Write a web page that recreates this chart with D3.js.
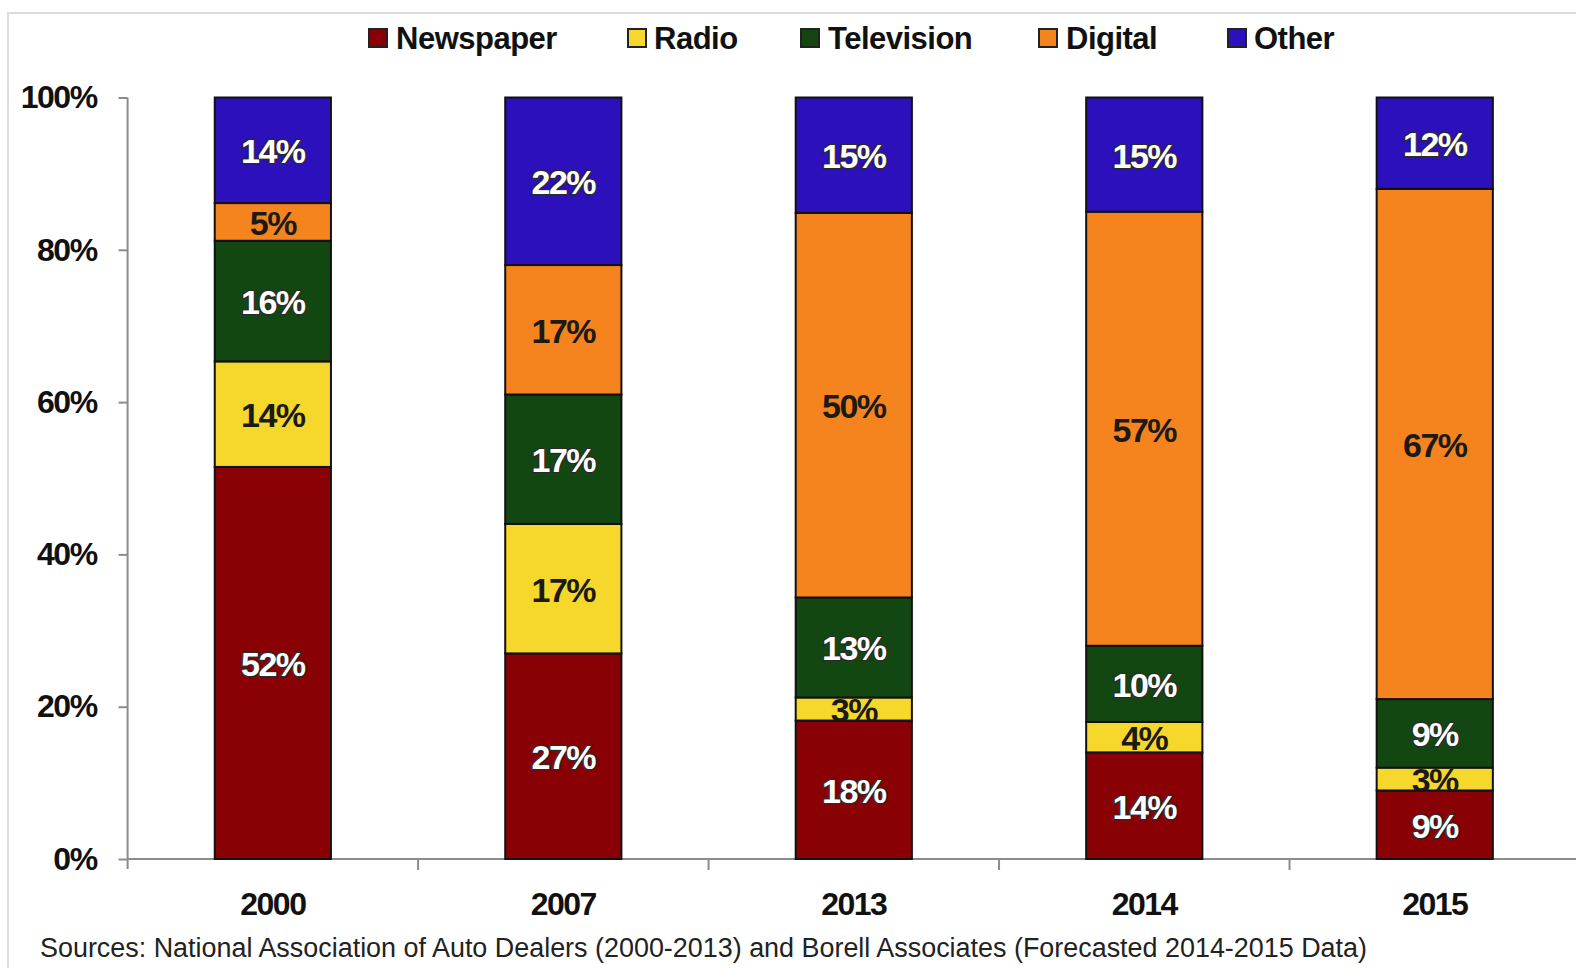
<!DOCTYPE html>
<html>
<head>
<meta charset="utf-8">
<script src="https://cdn.jsdelivr.net/npm/d3@7"></script>
<style>
  html, body { margin: 0; padding: 0; background: #fff; }
  svg { display: block; font-family: "Liberation Sans", Arial, sans-serif; }
</style>
</head>
<body>
<svg id="chart" width="1576" height="968"></svg>
<script>
// Share of auto dealer ad spending by medium
const years = ["2000", "2007", "2013", "2014", "2015"];
const media = ["Newspaper", "Radio", "Television", "Digital", "Other"];
const newspaper  = [52, 27, 18, 14, 9];
const radio      = [14, 17, 3, 4, 3];
const television = [16, 17, 13, 10, 9];
const digital    = [5, 17, 50, 57, 67];
const other      = [14, 22, 15, 15, 12];
const yTicks = [0, 0.2, 0.4, 0.6, 0.8, 1.0];
const sourceNote = "Sources: National Association of Auto Dealers (2000-2013) and Borell Associates (Forecasted 2014-2015 Data)";

const colors = {
  Newspaper: "#8a0105",
  Radio: "#f6d72b",
  Television: "#134711",
  Digital: "#f5841f",
  Other: "#2c10bc"
};
const darkText = new Set(["Radio", "Digital"]);

const rows = years.map((y, i) => ({
  year: y,
  Newspaper: newspaper[i],
  Radio: radio[i],
  Television: television[i],
  Digital: digital[i],
  Other: other[i]
}));

const svg = d3.select("#chart");

// light frame around the chart
svg.append("rect")
  .attr("x", 8).attr("y", 13)
  .attr("width", 1600).attr("height", 1000)
  .attr("fill", "none")
  .attr("stroke", "#dcdcdc")
  .attr("stroke-width", 2);

const x = d3.scaleBand()
  .domain(years)
  .range([127.6, 1580])
  .paddingInner(0.6)
  .paddingOuter(0.3);

const y = d3.scaleLinear().domain([0, 1]).range([859, 97.5]);

const stack = d3.stack().keys(media).offset(d3.stackOffsetExpand);
const series = stack(rows);

// y axis
const yAxis = d3.axisLeft(y)
  .tickValues(yTicks)
  .tickFormat(d3.format(".0%"))
  .tickSize(9)
  .tickPadding(22)
  .tickSizeOuter(0);
const gy = svg.append("g").attr("transform", "translate(127.6,0)").call(yAxis);
gy.select(".domain").attr("stroke", "#8c8c8c").attr("stroke-width", 2)
  .attr("d", `M0,${y(1)}V${y(0) + 10}`);
gy.selectAll(".tick line").attr("stroke", "#8c8c8c").attr("stroke-width", 2);
gy.selectAll(".tick text")
  .attr("fill", "#111")
  .style("font-size", "32px")
  .style("font-weight", "bold")
  .style("letter-spacing", "-1.5px");

// x axis baseline with ticks between categories
const gx = svg.append("g");
gx.append("line")
  .attr("x1", 127.6).attr("x2", 1576)
  .attr("y1", y(0)).attr("y2", y(0))
  .attr("stroke", "#8c8c8c").attr("stroke-width", 2);
gx.selectAll("line.sep")
  .data(years.slice(1))
  .join("line")
  .attr("class", "sep")
  .attr("x1", d => x(d) + x.bandwidth() / 2 - x.step() / 2)
  .attr("x2", d => x(d) + x.bandwidth() / 2 - x.step() / 2)
  .attr("y1", y(0)).attr("y2", y(0) + 11)
  .attr("stroke", "#8c8c8c").attr("stroke-width", 2);
gx.selectAll("text.year")
  .data(years)
  .join("text")
  .attr("class", "year")
  .attr("x", d => x(d) + x.bandwidth() / 2)
  .attr("y", 904)
  .attr("text-anchor", "middle")
  .attr("dominant-baseline", "central")
  .attr("fill", "#111")
  .style("font-size", "32px")
  .style("font-weight", "bold")
  .style("letter-spacing", "-1.5px")
  .text(d => d);

// stacked bars
const defs = svg.append("defs");
const layers = svg.append("g").selectAll("g.layer")
  .data(series)
  .join("g")
  .attr("class", "layer")
  .attr("fill", d => colors[d.key]);

layers.selectAll("rect")
  .data(d => d.map(p => ({ key: d.key, p })))
  .join("rect")
  .attr("x", d => x(d.p.data.year))
  .attr("y", d => y(d.p[1]))
  .attr("width", x.bandwidth())
  .attr("height", d => y(d.p[0]) - y(d.p[1]))
  .attr("stroke", "#111")
  .attr("stroke-width", 2);

// value labels, each clipped to its own segment
const labelData = [];
series.forEach(s => s.forEach(p => labelData.push({ key: s.key, p, v: p.data[s.key] })));
labelData.forEach((d, i) => {
  d.id = "seg" + i;
  defs.append("clipPath").attr("id", d.id)
    .append("rect")
    .attr("x", x(d.p.data.year))
    .attr("y", y(d.p[1]))
    .attr("width", x.bandwidth())
    .attr("height", y(d.p[0]) - y(d.p[1]));
});

svg.append("g").selectAll("text")
  .data(labelData)
  .join("text")
  .attr("clip-path", d => `url(#${d.id})`)
  .attr("x", d => x(d.p.data.year) + x.bandwidth() / 2)
  .attr("y", d => (y(d.p[0]) + y(d.p[1])) / 2 + 1)
  .attr("text-anchor", "middle")
  .attr("dominant-baseline", "central")
  .style("font-size", "34px")
  .style("font-weight", "bold")
  .style("letter-spacing", "-1.5px")
  .attr("fill", d => darkText.has(d.key) ? "#1c1a14" : "#ffffff")
  .attr("stroke", d => darkText.has(d.key) ? "none" : "#2a2a2a")
  .attr("stroke-width", 2.5)
  .style("paint-order", "stroke")
  .text(d => d.v + "%");

// legend
const legendPos = [
  { key: "Newspaper", sx: 369, tx: 396 },
  { key: "Radio", sx: 628, tx: 654 },
  { key: "Television", sx: 801, tx: 828 },
  { key: "Digital", sx: 1039, tx: 1066 },
  { key: "Other", sx: 1228, tx: 1254 }
];
const lg = svg.append("g").selectAll("g").data(legendPos).join("g");
lg.append("rect")
  .attr("x", d => d.sx).attr("y", 29)
  .attr("width", 18).attr("height", 18)
  .attr("fill", d => colors[d.key])
  .attr("stroke", "#222").attr("stroke-width", 2);
lg.append("text")
  .attr("x", d => d.tx).attr("y", 38)
  .attr("dominant-baseline", "central")
  .attr("fill", "#111")
  .style("font-size", "31px")
  .style("font-weight", "bold")
  .style("letter-spacing", "-0.5px")
  .text(d => d.key);

// source note
svg.append("text")
  .attr("x", 40).attr("y", 948)
  .attr("dominant-baseline", "central")
  .attr("fill", "#222")
  .attr("textLength", 1327)
  .attr("lengthAdjust", "spacingAndGlyphs")
  .style("font-size", "27px")
  .text(sourceNote);
</script>
</body>
</html>
